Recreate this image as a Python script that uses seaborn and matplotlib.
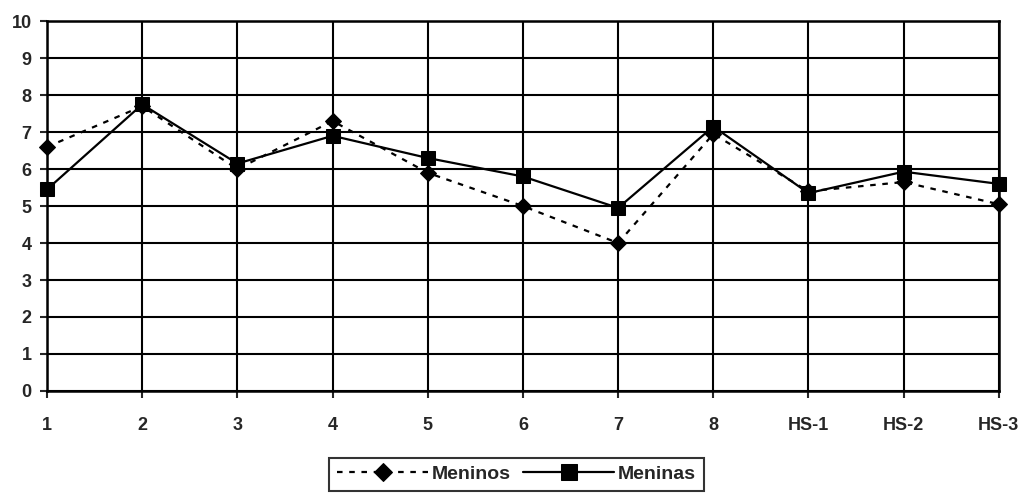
import pandas as pd
import numpy as np
import matplotlib
matplotlib.use('Agg')
import matplotlib.pyplot as plt
import seaborn as sns; sns.set_style('white')

plt.rcParams['font.family'] = ['Liberation Sans', 'DejaVu Sans']

grupos = ['1', '2', '3', '4', '5', '6', '7', '8', 'HS-1', 'HS-2', 'HS-3']
meninos = [6.6, 7.7, 6.0, 7.3, 5.9, 5.0, 4.0, 6.95, 5.4, 5.65, 5.05]
meninas = [5.45, 7.75, 6.15, 6.9, 6.3, 5.8, 4.95, 7.15, 5.35, 5.93, 5.6]

data = pd.DataFrame({'Grupo': grupos, 'Meninos': meninos, 'Meninas': meninas})
data['pos'] = np.arange(len(grupos))

fig = plt.figure(figsize=(10.29, 4.93), dpi=100)
ax = fig.add_axes([0.0457, 0.207, 0.925, 0.750])

sns.lineplot(data=data, x='pos', y='Meninos', ax=ax, color='black', lw=1.6,
             linestyle=(0, (2.5, 3)), marker='D', markersize=8,
             markeredgecolor='black', label='Meninos', clip_on=False, zorder=5)
sns.lineplot(data=data, x='pos', y='Meninas', ax=ax, color='black', lw=1.6,
             linestyle='-', marker='s', markersize=10,
             markeredgecolor='black', label='Meninas', clip_on=False, zorder=6)

ax.set_xlim(0, len(grupos) - 1)
ax.set_ylim(0, 10)
ax.set_xticks(data['pos'])
ax.set_xticklabels(grupos)
ax.set_yticks(range(0, 11))
ax.set_xlabel('')
ax.set_ylabel('')
ax.grid(True, color='black', lw=1.5)
ax.set_axisbelow(True)
for s in ax.spines.values():
    s.set_color('black')
    s.set_linewidth(1.8)
ax.tick_params(axis='x', length=5, width=1.5, pad=14, direction='out', bottom=True)
ax.tick_params(axis='y', length=5, width=1.5, pad=6, direction='out', left=True)
for t in ax.get_xticklabels() + ax.get_yticklabels():
    t.set_fontsize(13)
    t.set_fontweight('bold')

handles, labels = ax.get_legend_handles_labels()
if ax.get_legend() is not None:
    ax.get_legend().remove()
leg = fig.legend(handles, labels, loc='upper center', bbox_to_anchor=(0.502, 0.072),
                 ncol=2, frameon=True, fancybox=False, edgecolor='black',
                 handlelength=4.7, handletextpad=0.2, columnspacing=0.6,
                 borderpad=0.4, borderaxespad=0, numpoints=1, markerscale=1.15,
                 prop={'size': 14, 'weight': 'bold'})
leg.get_frame().set_linewidth(1.5)

fig.savefig('out.png', dpi=100)
